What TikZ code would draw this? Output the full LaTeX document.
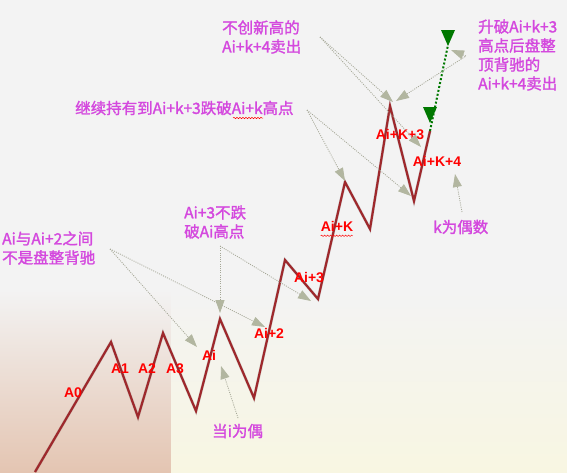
\documentclass[tikz,border=0pt]{standalone}
\usepackage{fontspec}
\setmainfont{Liberation Sans}
\newfontfamily\cjk{Noto Sans CJK SC}[AutoFakeBold=1.6]
\usetikzlibrary{arrows.meta,decorations.pathmorphing}
\definecolor{mag}{RGB}{212,72,222}
\definecolor{zz}{RGB}{158,40,44}
\definecolor{arrgray}{RGB}{165,167,150}
\definecolor{headgray}{RGB}{178,182,160}
\definecolor{grn}{RGB}{0,120,0}
\definecolor{bgtop}{RGB}{243,243,243}
\definecolor{peach}{RGB}{228,197,178}
\definecolor{cream}{RGB}{248,246,226}
\tikzset{
  ptip/.tip={Triangle[length=13pt,width=9pt,color=headgray]},
  redlbl/.style={text=red, font=\bfseries\fontsize{14}{16}\selectfont, inner sep=0pt},
  maglbl/.style={text=mag, font=\cjk\bfseries\fontsize{15.5}{19}\selectfont, inner sep=0pt, align=left, anchor=west},
  pointer/.style={draw=arrgray, dash pattern=on 1pt off 1.2pt, line width=0.8pt, -ptip},
  zig/.style={draw=zz, line width=2.2pt, line join=miter},
  zigshadow/.style={draw=black, opacity=0.13, line width=3pt, line join=miter},
  wavy/.style={draw=red, line width=0.5pt, decorate, decoration={snake, amplitude=0.7pt, segment length=3pt}},
}
\begin{document}
\begin{tikzpicture}[x=1pt,y=-1pt]
\useasboundingbox (0,0) rectangle (567,472);
% background
\fill[bgtop] (0,0) rectangle (567,472);
\shade[top color=bgtop, bottom color=peach] (0,290) rectangle (171,472);
\shade[top color=bgtop, bottom color=cream] (171,290) rectangle (567,472);

% zigzag vertices
\coordinate (v0) at (35,472);
\coordinate (v1) at (111,342);
\coordinate (v2) at (138,417);
\coordinate (v3) at (163,333);
\coordinate (v4) at (196,411);
\coordinate (v5) at (220,319);
\coordinate (v6) at (254,398);
\coordinate (v7) at (285,260);
\coordinate (v8) at (318,299);
\coordinate (v9) at (345,182);
\coordinate (v10) at (370,229);
\coordinate (v11) at (390,106);
\coordinate (v12) at (414,201);
\coordinate (v13) at (430,131);

\begin{scope}[xshift=2pt,yshift=-3pt]
\draw[zigshadow] (v0) -- (v1) -- (v2) -- (v3) -- (v4) -- (v5) -- (v6) -- (v7) -- (v8) -- (v9) -- (v10) -- (v11) -- (v12) -- (v13);
\end{scope}
\draw[zig] (v0) -- (v1) -- (v2) -- (v3) -- (v4) -- (v5) -- (v6) -- (v7) -- (v8) -- (v9) -- (v10) -- (v11) -- (v12) -- (v13);

% green arrow
\coordinate (g1) at (448,45);
\draw[grn, dotted, line width=2pt] (v13) -- (g1);
\fill[grn] (441,30) -- (455,30) -- (448,46) -- cycle;
\fill[grn] (423,107) -- (437,107) -- (430,123) -- cycle;

% red labels
\node[redlbl] (a0) at (73,393) {A0};
\node[redlbl] (a1) at (120,369) {A1};
\node[redlbl] (a2) at (147,369) {A2};
\node[redlbl] (a3) at (175,369) {A3};
\node[redlbl] (ai) at (209,355) {Ai};
\node[redlbl] (ai2) at (269,333) {Ai+2};
\node[redlbl] (ai3) at (309,277) {Ai+3};
\node[redlbl] (aik) at (337,226) {Ai+K};
\node[redlbl] (aik3) at (400,135) {Ai+K+3};
\node[redlbl] (aik4) at (437,161) {Ai+K+4};
\draw[wavy] (aik.south west) ++(0,4.5) -- ++(32,0);

% magenta labels
\node[maglbl] (t1) at (2,248) {Ai与Ai+2之间\\不是盘整背驰};
\node[maglbl] (t2) at (184,222) {Ai+3不跌\\破Ai高点};
\node[maglbl] (t3) at (222,37) {不创新高的\\Ai+k+4卖出};
\node[maglbl] (t4) at (75,108) {继续持有到Ai+k+3跌破Ai+k高点};
\node[maglbl] (t5) at (478,55) {升破Ai+k+3\\高点后盘整\\顶背驰的\\Ai+k+4卖出};
\node[maglbl] (t6) at (433,227) {k为偶数};
\node[maglbl] (t7) at (212,431) {当i为偶};
\coordinate (w1) at (233,118);
\draw[wavy] (w1) -- ++(30,0);

% pointer start points
\coordinate (s1) at (110,249);
\coordinate (s2) at (220,246);
\coordinate (s3) at (307,110);
\coordinate (s4) at (320,37);
\coordinate (s5) at (466,56);
\coordinate (s6) at (462,212);
\coordinate (s7) at (238,418);
% pointer tips
\coordinate (e1a) at (197,347);
\coordinate (e1b) at (265,327);
\coordinate (e2a) at (220,313);
\coordinate (e2b) at (311,301);
\coordinate (e3a) at (345,181);
\coordinate (e3b) at (411,196);
\coordinate (e4a) at (393,102);
\coordinate (e4b) at (421,147);
\coordinate (e5a) at (451,50);
\coordinate (e5b) at (396,101);
\coordinate (e6) at (455,174);
\coordinate (e7) at (221,366);

\draw[pointer] (s1) -- (e1a);
\draw[pointer] (s1) -- (e1b);
\draw[pointer] (s2) -- (e2a);
\draw[pointer] (s2) -- (e2b);
\draw[pointer] (s3) -- (e3a);
\draw[pointer] (s3) -- (e3b);
\draw[pointer] (s4) -- (e4a);
\draw[pointer] (s4) -- (e4b);
\draw[pointer, ptip-ptip] (e5a) -- (s5) -- (e5b);
\draw[pointer] (s6) -- (e6);
\draw[pointer] (s7) -- (e7);
\end{tikzpicture}
\end{document}
